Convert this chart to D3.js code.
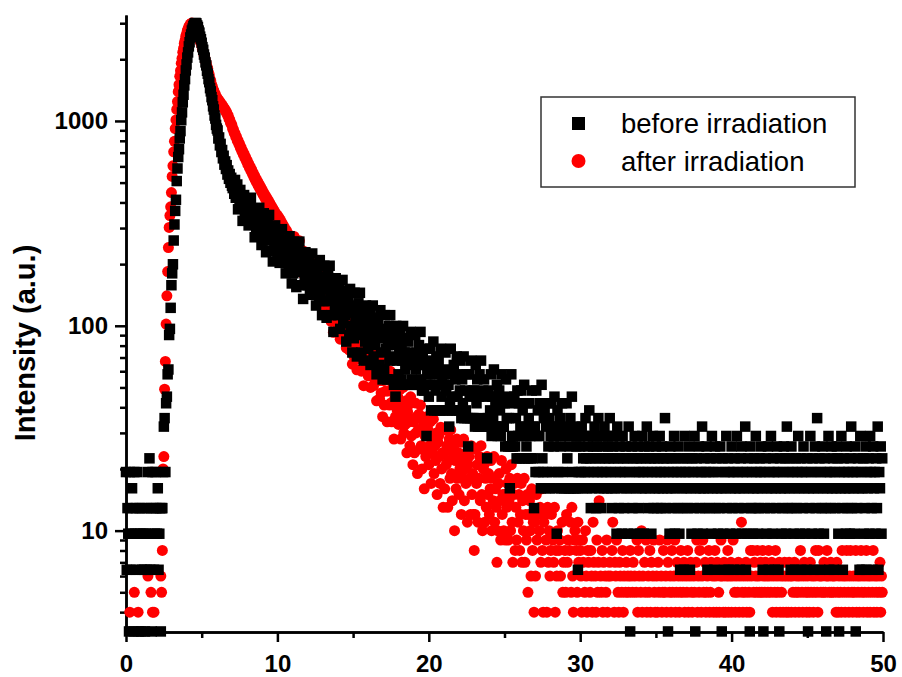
<!DOCTYPE html>
<html>
<head>
<meta charset="utf-8">
<title>Intensity decay before / after irradiation</title>
<script src="https://cdnjs.cloudflare.com/ajax/libs/d3/7.8.5/d3.min.js"></script>
<style>
  body { margin: 0; background: #fff; }
  svg { display: block; font-family: "Liberation Sans", Arial, sans-serif; }
  .axis path, .axis line { stroke: #000; stroke-width: 2.5; }
  .axis text { font-size: 24px; font-weight: bold; fill: #000; }
</style>
</head>
<body>
<div id="chart"></div>
<script>

// time channels: x = start + i * step
var xStart = 0, step = 0.05;
// "before" counts are stored in detector units of 3.22, "after" in units of 1
var blackUnit = 3.22, redUnit = 1;

// before irradiation, x 0 .. 4.95
var blackA = [
 6,2,4,3,1,6,2,3,5,4,1,6,3,4,2,6,3,1,4,3,
 1,2,4,3,2,1,3,4,2,6,3,7,2,4,1,6,4,2,3,6,
 4,3,5,2,3,4,1,4,4,6,10,11,6,13,14,18,19,28,30,38,
 49,56,62,81,97,113,128,158,182,207,226,255,277,313,342,383,417,463,497,548,
 586,633,671,718,752,794,821,858,877,903,915,932,934,930,909,893,858,838,801,778];
// x 5 .. 14.95
var blackB = [
 748,712,691,655,633,600,580,546,528,497,480,449,433,406,392,366,353,330,319,297,
 285,279,255,258,236,240,219,224,204,210,190,197,181,189,170,178,162,171,155,164,
 150,146,158,137,160,131,138,152,115,136,122,143,117,129,101,125,135,110,130,107,
 126,113,96,121,108,131,103,99,116,111,84,109,92,114,99,88,117,92,101,77,
 98,81,110,90,99,71,91,101,81,108,82,72,92,95,64,86,74,96,78,88,
 71,79,91,63,82,74,92,65,75,68,81,56,75,78,69,58,85,63,70,50,
 70,56,80,64,72,48,65,74,57,80,58,49,66,69,42,62,52,71,55,63,
 49,57,67,44,60,53,70,46,56,50,62,39,56,60,51,41,65,46,52,35,
 53,41,61,47,54,34,48,56,41,61,43,35,50,52,29,46,38,53,40,47,
 35,42,51,30,44,38,52,32,40,35,46,26,41,43,36,28,47,31,37,23];
// x 15 .. 29.95
var blackC = [
 37,27,45,33,39,22,34,40,28,45,30,23,36,38,21,33,26,39,28,34,
 24,30,38,20,32,27,39,22,29,25,34,18,30,33,27,20,37,23,28,17,
 28,19,35,24,30,17,25,31,21,35,22,17,28,29,16,25,14,31,21,27,
 18,23,30,17,25,21,31,16,23,19,27,16,23,26,20,16,29,17,22,16,
 22,16,28,19,23,16,20,25,16,29,17,15,22,24,15,20,16,9,18,21,
 14,18,24,12,20,16,26,12,18,15,22,12,19,21,16,12,24,14,17,12,
 18,12,23,15,19,12,16,10,13,24,14,12,18,20,12,17,12,22,14,18,
 12,15,21,11,17,13,22,11,15,12,18,11,8,18,14,11,21,11,15,11,
 15,10,20,13,17,10,14,18,10,21,11,10,15,17,10,14,10,7,11,15,
 10,12,18,9,14,11,19,10,13,10,16,9,14,15,12,9,18,10,13,10,
 13,8,17,11,14,8,11,5,8,18,9,8,13,14,8,11,7,15,9,13,
 7,10,15,7,12,9,16,7,10,8,13,7,11,13,9,7,15,7,10,4,
 10,6,15,9,12,6,9,13,5,16,7,6,11,12,5,10,6,13,8,11,
 5,9,13,6,10,8,14,5,9,3,12,6,10,11,8,5,13,6,9,5,
 9,5,13,7,10,5,8,11,5,14,6,5,9,10,5,8,5,2,6,9];
// x 30 .. 49.95
var blackD = [
 8,6,10,5,7,9,6,11,7,5,8,6,12,7,4,9,5,8,6,10,
 7,4,8,6,11,5,7,9,4,6,8,5,10,7,6,9,5,8,7,11,
 6,5,4,8,7,9,5,6,3,10,7,4,8,6,5,3,9,7,4,6,
 8,5,7,3,10,6,1,5,8,4,7,3,9,6,5,7,8,4,6,3,
 7,5,9,6,3,8,5,7,10,6,4,8,5,7,3,6,9,4,7,5,
 8,6,4,7,5,9,6,4,8,5,7,6,11,4,7,5,1,6,3,8,
 5,7,4,6,9,3,5,7,6,4,8,3,2,6,5,7,4,2,9,6,
 5,7,4,6,8,2,5,3,7,6,4,9,1,5,7,3,6,8,4,5,
 6,10,3,5,7,4,6,8,2,5,6,4,7,3,9,5,6,2,8,4,
 7,5,3,6,4,8,5,1,7,3,2,6,5,9,4,7,2,6,3,5,
 8,4,6,2,7,5,3,9,6,4,5,2,7,8,3,6,5,4,10,2,
 6,3,7,5,1,8,4,6,3,5,7,4,9,6,5,3,4,7,6,8,
 5,2,1,6,4,7,3,5,8,2,6,4,9,5,3,7,6,2,5,4,
 8,6,2,1,7,5,3,4,6,8,5,7,3,10,4,6,5,7,2,8,
 4,6,3,5,2,7,4,6,9,5,3,7,2,6,4,8,5,3,6,2,
 7,1,5,4,9,6,3,7,5,2,8,4,6,11,5,3,7,2,6,4,
 8,5,3,7,4,1,6,5,9,2,6,4,8,5,7,2,6,4,5,8,
 7,3,1,6,5,9,4,2,7,6,5,3,8,4,6,5,3,7,10,4,
 6,5,3,8,1,6,4,7,5,2,9,6,2,5,7,3,4,8,2,6,
 5,7,3,9,6,4,2,8,5,6,3,7,4,10,2,6,5,8,3,7];

// after irradiation, x 0 .. 4.95
var redA = [
 2,1,3,2,0,4,2,3,1,2,3,5,1,2,0,3,4,2,1,3,
 2,0,1,3,2,1,3,2,0,6,2,3,1,5,2,4,3,4,1,2,
 3,0,2,1,3,2,6,5,8,20,23,49,67,102,140,184,241,302,345,381,
 447,536,604,707,795,918,1012,1138,1243,1389,1502,1651,1760,1912,2021,2163,2258,2391,2470,2593,
 2661,2759,2812,2887,2921,2972,2983,3004,2985,2971,2922,2896,2832,2791,2718,2671,2593,2537,2452,2398];
// x 5 .. 14.95
var redB = [
 2327,2241,2188,2102,2053,1972,1921,1843,1797,1722,1676,1603,1567,1502,1476,1423,1405,1363,1350,1314,
 1293,1286,1258,1255,1229,1226,1198,1196,1168,1166,1139,1136,1105,1101,1068,1061,1025,1016,981,971,
 950,912,908,871,869,836,835,801,803,771,773,741,743,711,715,686,690,661,665,637,
 641,613,619,591,598,571,578,551,558,531,539,513,521,496,505,481,490,466,475,452,
 460,438,446,424,433,411,421,399,409,387,397,375,385,363,374,352,363,342,353,332,
 346,328,337,319,328,309,318,299,308,290,299,281,291,273,282,266,274,257,266,249,
 256,227,273,239,254,207,237,252,218,260,218,198,229,233,180,215,196,229,197,212,
 183,195,213,166,195,180,208,162,178,165,186,142,174,176,159,139,179,143,154,122,
 150,127,163,137,148,112,134,146,120,152,120,105,129,132,93,119,105,130,107,118,
 97,107,121,86,109,98,120,87,99,90,107,78,100,103,89,76,106,80,89,65];
// x 15 .. 29.95
var redC = [
 88,71,98,79,88,61,79,89,69,95,71,60,79,81,51,73,62,81,64,73,
 57,65,76,50,67,59,76,51,61,54,67,43,61,63,54,44,67,47,54,36,
 54,41,63,48,55,34,48,56,41,60,42,34,49,51,28,44,36,52,39,45,
 33,40,49,28,42,36,50,30,38,33,43,24,38,41,34,26,45,29,35,21,
 34,24,42,30,36,19,31,37,25,41,26,20,32,34,16,29,23,36,25,31,
 21,26,34,17,29,24,35,19,26,22,30,15,27,29,23,17,32,20,24,13,
 24,16,31,21,26,13,22,28,18,31,19,14,24,26,10,22,16,28,18,24,
 15,20,27,12,22,18,28,14,20,17,24,11,21,23,18,12,26,15,19,12,
 8,12,25,17,21,11,18,23,14,26,15,10,20,21,11,18,13,23,15,19,
 12,16,22,10,18,14,23,11,16,13,7,10,17,19,14,9,22,12,15,10,
 15,9,20,13,17,9,14,18,10,21,11,7,15,17,8,13,9,18,11,15,
 8,12,17,7,14,10,18,7,12,9,15,5,12,14,10,6,16,8,11,4,
 11,6,15,9,12,3,10,13,7,16,8,4,11,12,2,9,4,13,7,10,
 6,8,12,3,9,7,13,4,8,6,10,2,8,9,6,3,11,5,7,1,
 8,5,12,7,9,3,8,11,5,13,6,4,9,10,2,8,5,11,7,9];
// x 30 .. 49.95
var redD = [
 8,6,4,9,7,3,5,10,6,4,8,7,2,5,8,6,4,11,7,3,
 6,4,9,5,7,14,3,6,5,8,4,7,2,6,5,9,4,6,3,7,
 6,2,8,11,3,4,7,6,9,3,5,4,7,6,2,5,8,4,6,3,
 5,7,2,6,5,3,8,6,1,5,7,3,6,2,5,9,4,8,6,3,
 5,10,4,6,2,7,5,9,4,3,6,5,8,4,7,2,6,9,5,4,
 3,6,4,7,5,9,2,6,4,5,8,3,5,6,4,9,7,2,5,6,
 4,8,5,3,6,9,4,5,7,1,6,4,5,8,3,6,5,7,4,2,
 6,5,8,4,3,6,7,5,4,2,6,5,3,7,9,4,6,5,8,3,
 4,6,9,5,2,7,4,5,6,3,8,4,5,7,2,6,4,3,8,6,
 4,7,2,5,4,6,9,3,6,4,7,2,4,6,3,8,4,6,1,7,
 4,6,9,3,5,4,6,2,5,7,4,6,3,11,5,4,6,2,5,7,
 4,6,3,5,4,8,6,2,8,5,7,3,6,5,8,2,6,5,7,3,
 5,8,6,2,5,7,6,3,5,8,6,1,5,7,4,6,3,5,8,4,
 6,5,2,7,4,6,5,3,4,6,7,3,4,6,2,4,7,6,3,4,
 6,5,2,7,4,5,6,3,5,4,6,8,2,5,4,6,7,3,5,4,
 6,5,2,4,7,5,6,3,4,5,6,8,2,5,4,8,6,3,5,6,
 2,5,7,3,5,6,8,2,6,5,3,7,5,6,1,5,6,3,4,7,
 5,4,6,2,5,4,8,6,3,5,4,6,8,2,5,4,6,8,3,5,
 4,6,5,2,8,4,6,5,3,4,6,8,5,2,4,6,5,3,8,4,
 6,5,3,4,6,2,5,8,4,6,3,5,4,6,2,5,7,4,6,5];

var seriesNames = ["before irradiation", "after irradiation"];
var xTicks = [0, 10, 20, 30, 40, 50];
var xMinor = [5, 15, 25, 35, 45];
var yTicks = [10, 100, 1000];
var yMinor = [4,5,6,7,8,9,20,30,40,50,60,70,80,90,200,300,400,500,600,700,800,900,2000,3000];

var W = 902, H = 677;
var margin = {top: 15, right: 19, bottom: 45, left: 126},
    width = W - margin.left - margin.right,
    height = H - margin.top - margin.bottom;

var root = d3.select("#chart").append("svg")
    .attr("width", W)
    .attr("height", H);
var svg = root.append("g")
    .attr("transform", "translate(" + margin.left + "," + margin.top + ")");

var x = d3.scaleLinear().domain([0, 50]).range([0, width]);
var y = d3.scaleLog().domain([3.2, 3290]).range([height, 0]);

function toPoints(counts, unit) {
  return counts.map(function(c, i) { return {x: xStart + i * step, v: c * unit}; })
    .filter(function(d) { return d.v >= y.domain()[0]; });
}
var before = toPoints(blackA.concat(blackB, blackC, blackD), blackUnit);
var after = toPoints(redA.concat(redB, redC, redD), redUnit);

// axes: minor ticks first, then labelled major ticks
svg.append("g").attr("class", "axis")
  .attr("transform", "translate(0," + height + ")")
  .call(d3.axisBottom(x).tickValues(xMinor).tickSize(6).tickSizeOuter(0).tickFormat(""));
svg.append("g").attr("class", "axis")
  .attr("transform", "translate(0," + height + ")")
  .call(d3.axisBottom(x).tickValues(xTicks).tickSize(10).tickSizeOuter(0).tickPadding(13));

svg.append("g").attr("class", "axis")
  .call(d3.axisLeft(y).tickValues(yMinor).tickSize(6).tickSizeOuter(0).tickFormat(""));
svg.append("g").attr("class", "axis")
  .call(d3.axisLeft(y).tickValues(yTicks).tickSize(11).tickSizeOuter(0).tickPadding(7)
    .tickFormat(d3.format("d")));

root.append("text")
  .attr("transform", "translate(35," + 343 + ") rotate(-90)")
  .attr("text-anchor", "middle")
  .style("font-size", "29px")
  .style("font-weight", "bold")
  .text("Intensity (a.u.)");

// after irradiation underneath, before irradiation on top
svg.selectAll("circle.after")
  .data(after)
  .enter()
  .append("circle")
    .attr("class", "after")
    .attr("cx", function(d) { return x(d.x); })
    .attr("cy", function(d) { return y(d.v); })
    .attr("r", 5.5)
    .style("fill", "#ff0000");

var sq = 10.5;
svg.selectAll("rect.before")
  .data(before)
  .enter()
  .append("rect")
    .attr("class", "before")
    .attr("x", function(d) { return x(d.x) - sq / 2; })
    .attr("y", function(d) { return y(d.v) - sq / 2; })
    .attr("width", sq)
    .attr("height", sq)
    .style("fill", "#000");

// legend
var legend = root.append("g");
legend.append("rect")
  .attr("x", 541).attr("y", 97)
  .attr("width", 314).attr("height", 90)
  .attr("fill", "#fff")
  .attr("stroke", "#333")
  .attr("stroke-width", 1.5);
legend.append("rect")
  .attr("x", 572).attr("y", 117).attr("width", 13).attr("height", 13)
  .style("fill", "#000");
legend.append("circle")
  .attr("cx", 578.5).attr("cy", 161).attr("r", 7)
  .style("fill", "#ff0000");
legend.selectAll("text.lab")
  .data(seriesNames)
  .enter()
  .append("text")
    .attr("class", "lab")
    .attr("x", 621)
    .attr("y", function(d, i) { return 133 + i * 38; })
    .style("font-size", "27.5px")
    .text(function(d) { return d; });

</script>
</body>
</html>
